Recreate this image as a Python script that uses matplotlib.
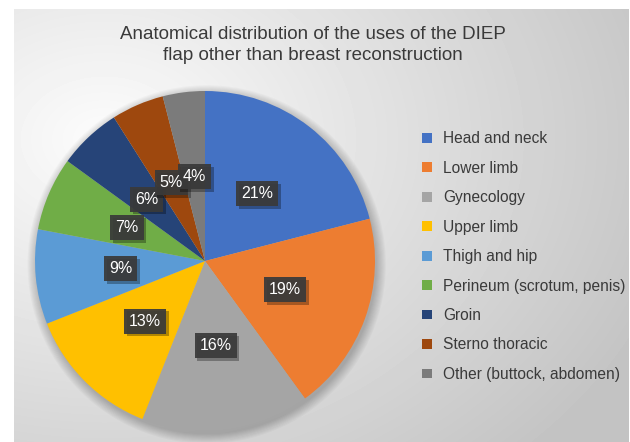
import numpy as np
import matplotlib.pyplot as plt
import matplotlib.patheffects as pe
from matplotlib.patches import Circle, Rectangle

plt.rcParams["font.family"] = ["Liberation Sans", "DejaVu Sans"]

title = "Anatomical distribution of the uses of the DIEP\nflap other than breast reconstruction"
categories = [
    "Head and neck",
    "Lower limb",
    "Gynecology",
    "Upper limb",
    "Thigh and hip",
    "Perineum (scrotum, penis)",
    "Groin",
    "Sterno thoracic",
    "Other (buttock, abdomen)",
]
shares = [21, 19, 16, 13, 9, 7, 6, 5, 4]
colors = ["#4472C4", "#ED7D31", "#A5A5A5", "#FFC000", "#5B9BD5",
          "#70AD47", "#264478", "#9E480E", "#7B7B7B"]

W, H = 630, 442
fig = plt.figure(figsize=(W / 100, H / 100), dpi=100)
fig.patch.set_facecolor("white")

# background panel with soft gradient
bg = fig.add_axes([14 / W, 0, (W - 15) / W, (H - 9) / H])
bg.set_axis_off()
yy, xx = np.mgrid[0:433, 0:615]
d = np.sqrt(((xx - 90) / 1.0) ** 2 + ((yy - 130) / 0.75) ** 2)
shade = np.clip(252 - 0.095 * d, 195, 252) / 255
bg.imshow(shade, cmap="gray", vmin=0, vmax=1, aspect="auto", interpolation="bilinear")

# pie axes: centre (205, 261) px, radius 170 px
cx, cy, r = 205, 261, 170
ax = fig.add_axes([(cx - r) / W, (H - cy - r) / H, 2 * r / W, 2 * r / H])
ax.set_axis_off()

# soft shadow around the pie
for k in range(10):
    ax.add_patch(Circle((0.01, -0.02), 1.0 + 0.006 * k, color="black",
                        alpha=0.022, lw=0, zorder=0, clip_on=False))

wedges, texts, autotexts = ax.pie(
    shares, colors=colors, startangle=90, counterclock=False,
    autopct=lambda p: f"{p:.0f}%", pctdistance=0.5, radius=1.0,
    wedgeprops=dict(linewidth=0),
    textprops=dict(color="white", fontsize=11.5),
)
ax.set_xlim(-1, 1)
ax.set_ylim(-1, 1)

# label boxes: all boxes drawn below all label texts
fig.canvas.draw()
renderer = fig.canvas.get_renderer()
inv = ax.transData.inverted()
pad_x, pad_y = 5, 5
for t in autotexts:
    t.set_zorder(10)
    ext = t.get_window_extent(renderer)
    (x0, y0), (x1, y1) = inv.transform([(ext.x0 - pad_x, ext.y0 - pad_y),
                                        (ext.x1 + pad_x, ext.y1 + pad_y)])
    box = Rectangle((x0, y0), x1 - x0, y1 - y0, fc="#3a3a3a", ec="none",
                    alpha=0.93, zorder=5, clip_on=False)
    box.set_path_effects([pe.SimplePatchShadow(offset=(2, -2), shadow_rgbFace="black",
                                               alpha=0.3), pe.Normal()])
    ax.add_patch(box)

fig.text(0.497, 1 - 45 / H, title, ha="center", va="center", fontsize=13.5,
         color="#3a3a3a", linespacing=1.3)

leg = fig.legend(wedges, categories, loc="upper left",
                 bbox_to_anchor=(416 / W, 1 - 125 / H), frameon=False,
                 fontsize=11.2, handlelength=0.6, handleheight=0.6,
                 handletextpad=0.75, labelspacing=0.93, borderaxespad=0)
for t in leg.get_texts():
    t.set_color("#3a3a3a")

fig.savefig("out.png", dpi=100)
